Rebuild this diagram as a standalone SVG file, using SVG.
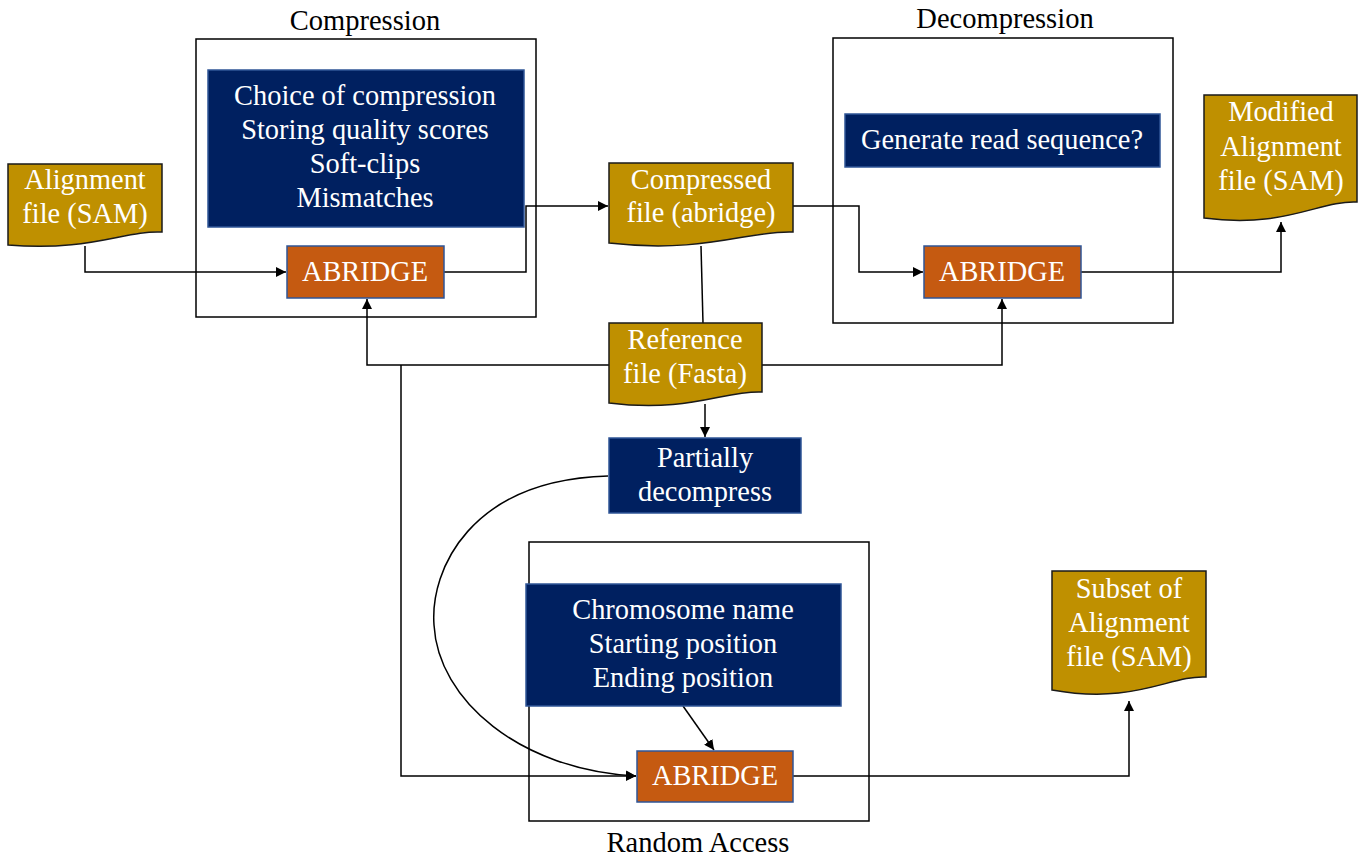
<svg xmlns="http://www.w3.org/2000/svg" width="1361" height="859" viewBox="0 0 1361 859">
<style>
text{font-family:"Liberation Serif","Times New Roman",serif;font-size:28.4px;text-anchor:middle}
.w{fill:#fff}
.k{fill:#000}
.frame{fill:none;stroke:#000;stroke-width:1.5}
.navy{fill:#002060;stroke:#2F5597;stroke-width:1.5}
.orange{fill:#C55A11;stroke:#2F5597;stroke-width:1.5}
.doc{fill:#BF9000;stroke:#1a1a1a;stroke-width:1.5}
.c{fill:none;stroke:#000;stroke-width:1.5}
</style>
<defs>
<marker id="ah" viewBox="0 0 10 10" refX="10" refY="5" markerWidth="10" markerHeight="10" markerUnits="userSpaceOnUse" orient="auto">
<path d="M0,0 L10,5 L0,10 z" fill="#000"/>
</marker>
</defs>
<rect width="1361" height="859" fill="#fff"/>
<g id="frames">
<rect class="frame" x="196" y="39" width="340" height="278"/>
<text class="k" x="365" y="30" style="font-size:28.5px">Compression</text>
<rect class="frame" x="833" y="38" width="340" height="285"/>
<text class="k" x="1005" y="28" style="font-size:28.5px">Decompression</text>
<rect class="frame" x="529" y="542" width="340" height="279"/>
<text class="k" x="698" y="852" style="font-size:28.5px">Random Access</text>
</g>
<g id="connectors">
<path class="c" d="M85,246 V272 H286" marker-end="url(#ah)"/>
<path class="c" d="M444,272 H526 V206 H608" marker-end="url(#ah)"/>
<path class="c" d="M793,206 H859 V272 H923" marker-end="url(#ah)"/>
<path class="c" d="M1081,272 H1281 V222" marker-end="url(#ah)"/>
<path class="c" d="M701,246 L703,323"/>
<path class="c" d="M609,365 H367 V299" marker-end="url(#ah)"/>
<path class="c" d="M762,365 H1002 V299" marker-end="url(#ah)"/>
<path class="c" d="M401,365 V776 H636" marker-end="url(#ah)"/>
<path class="c" d="M705,404 V437" marker-end="url(#ah)"/>
<path class="c" d="M608,476 C470,480 430,570 434,625 C438,700 520,770 636,776" marker-end="url(#ah)"/>
<path class="c" d="M683,706 L714,750" marker-end="url(#ah)"/>
<path class="c" d="M793,776 H1129 V701" marker-end="url(#ah)"/>
</g>
<g id="n-align">
<path class="doc" d="M8,164 H162 V232 C125,230 90,252 8,245 Z"/>
<text class="w" x="85" y="189">Alignment</text>
<text class="w" x="85" y="223">file (SAM)</text>
</g>
<g id="n-comp-params">
<rect class="navy" x="208" y="70" width="316" height="157"/>
<text class="w" x="365" y="105">Choice of compression</text>
<text class="w" x="365" y="139">Storing quality scores</text>
<text class="w" x="365" y="173">Soft-clips</text>
<text class="w" x="365" y="207">Mismatches</text>
</g>
<g id="n-abridge1">
<rect class="orange" x="287" y="246" width="157" height="52"/>
<text class="w" x="365" y="281">ABRIDGE</text>
</g>
<g id="n-compressed">
<path class="doc" d="M609,163 H793 V232 C750,230 705,254 609,243 Z"/>
<text class="w" x="701" y="189">Compressed</text>
<text class="w" x="701" y="222">file (abridge)</text>
</g>
<g id="n-reference">
<path class="doc" d="M609,323 H762 V392 C725,390 690,413 609,403 Z"/>
<text class="w" x="685" y="349">Reference</text>
<text class="w" x="685" y="383">file (Fasta)</text>
</g>
<g id="n-gen">
<rect class="navy" x="845" y="114" width="315" height="53"/>
<text class="w" x="1002" y="149">Generate read sequence?</text>
</g>
<g id="n-abridge2">
<rect class="orange" x="924" y="246" width="157" height="52"/>
<text class="w" x="1002" y="281">ABRIDGE</text>
</g>
<g id="n-modified">
<path class="doc" d="M1204,95 H1357 V202 C1320,200 1285,229 1204,218 Z"/>
<text class="w" x="1281" y="121">Modified</text>
<text class="w" x="1281" y="156">Alignment</text>
<text class="w" x="1281" y="190">file (SAM)</text>
</g>
<g id="n-partial">
<rect class="navy" x="609" y="438" width="192" height="75"/>
<text class="w" x="705" y="467">Partially</text>
<text class="w" x="705" y="501">decompress</text>
</g>
<g id="n-chrom">
<rect class="navy" x="526" y="584" width="315" height="122"/>
<text class="w" x="683" y="619">Chromosome name</text>
<text class="w" x="683" y="653">Starting position</text>
<text class="w" x="683" y="687">Ending position</text>
</g>
<g id="n-abridge3">
<rect class="orange" x="637" y="751" width="156" height="51"/>
<text class="w" x="715" y="785">ABRIDGE</text>
</g>
<g id="n-subset">
<path class="doc" d="M1052,571 H1206 V677 C1170,675 1135,705 1052,690 Z"/>
<text class="w" x="1129" y="598">Subset of</text>
<text class="w" x="1129" y="632">Alignment</text>
<text class="w" x="1129" y="666">file (SAM)</text>
</g>
</svg>
